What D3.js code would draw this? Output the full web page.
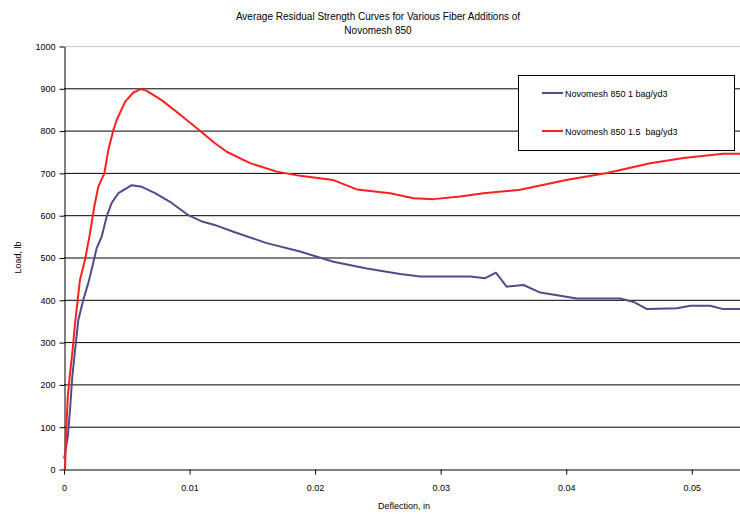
<!DOCTYPE html>
<html>
<head>
<meta charset="utf-8">
<script src="https://cdn.jsdelivr.net/npm/d3@7"></script>
<style>
body { margin: 0; background: #fff; }
text { font-family: "Liberation Sans", Arial, sans-serif; fill: #000; }
</style>
</head>
<body>
<div id="chart"></div>
<script>
var seriesNames = ["Novomesh 850 1 bag/yd3", "Novomesh 850 1.5  bag/yd3"];
var seriesColors = ["#4d4d8c", "#ff1f1f"];

// deflection (in), load (lb)
var oneBagX = [0, 0.00008, 0.0003, 0.00048, 0.00066, 0.00088, 0.00114, 0.00154, 0.00194, 0.00233, 0.0026, 0.003, 0.0034, 0.0038, 0.00433, 0.0054, 0.0062, 0.00725, 0.00858, 0.0099, 0.0110, 0.0120, 0.01349, 0.01615, 0.0188, 0.02146, 0.02412, 0.02677, 0.02837, 0.03235, 0.03355, 0.0344, 0.03525, 0.0366, 0.03793, 0.04085, 0.0443, 0.04537, 0.04643, 0.04882, 0.04988, 0.05147, 0.05249, 0.0540];
var oneBagY = [25, 35, 76, 140, 218, 281, 352, 400, 440, 487, 522, 549, 597, 629, 652, 671, 667, 652, 629, 600, 585, 577, 561, 534, 514, 490, 474, 461, 455, 455, 451, 464, 431, 435, 417, 403, 403, 395, 378, 380, 386, 386, 378, 378];

var onePtFiveX = [0, 0.00008, 0.00016, 0.0003, 0.00048, 0.00066, 0.00088, 0.00109, 0.00127, 0.00167, 0.00207, 0.00241, 0.00273, 0.00321, 0.00353, 0.00393, 0.0042, 0.00486, 0.00552, 0.00614, 0.00659, 0.00778, 0.00911, 0.01044, 0.01203, 0.01296, 0.01482, 0.01695, 0.0188, 0.02146, 0.02332, 0.02598, 0.02784, 0.02943, 0.03155, 0.03341, 0.03633, 0.04, 0.04325, 0.04669, 0.04935, 0.05249, 0.0540];
var onePtFiveY = [0, 2, 76, 171, 226, 274, 344, 400, 447, 494, 557, 620, 667, 699, 754, 801, 825, 868, 890, 898, 894, 872, 841, 809, 770, 750, 723, 703, 693, 683, 661, 652, 640, 638, 644, 652, 660, 683, 700, 723, 735, 745, 745];

var xTicks = [0, 0.01, 0.02, 0.03, 0.04, 0.05];
var yTicks = [0, 100, 200, 300, 400, 500, 600, 700, 800, 900, 1000];

var width = 740, height = 518;
var plotLeft = 64, plotRight = 742, plotTop = 46, plotBottom = 469;

var svg = d3.select("#chart").append("svg")
    .attr("width", width)
    .attr("height", height);

var x = d3.scaleLinear().domain([0, 0.054]).range([plotLeft, plotRight]);
var y = d3.scaleLinear().domain([0, 1000]).range([plotBottom, plotTop]);

// title
svg.append("text")
    .attr("x", 378).attr("y", 20)
    .attr("text-anchor", "middle")
    .style("font-size", "10px")
    .text("Average Residual Strength Curves for Various Fiber Additions of");
svg.append("text")
    .attr("x", 378).attr("y", 34)
    .attr("text-anchor", "middle")
    .style("font-size", "10px")
    .text("Novomesh 850");

// gridlines
svg.append("g")
    .selectAll("line")
    .data(yTicks.filter(function(d) { return d > 0; }))
    .enter().append("line")
    .attr("x1", plotLeft).attr("x2", plotRight)
    .attr("y1", function(d) { return y(d) + 0.5; })
    .attr("y2", function(d) { return y(d) + 0.5; })
    .attr("stroke", function(d) { return d == 1000 ? "#d6c8c8" : "#000"; })
    .attr("stroke-width", 1);

// axes
var yAxis = svg.append("g")
    .attr("transform", "translate(" + (plotLeft + 0.5) + ",0.5)")
    .call(d3.axisLeft(y).tickValues(yTicks).tickSize(5).tickSizeOuter(0).tickPadding(4)
        .tickFormat(d3.format("d")));
var xAxis = svg.append("g")
    .attr("transform", "translate(0," + (plotBottom + 0.5) + ")")
    .call(d3.axisBottom(x).tickValues(xTicks).tickSize(5).tickSizeOuter(0).tickPadding(10)
        .tickFormat(function(d) { return d == 0 ? "0" : d3.format(".2f")(d); }));
[xAxis, yAxis].forEach(function(a) {
    a.selectAll("text").style("font-size", "9px").style("font-family", "Liberation Sans, Arial, sans-serif");
    a.selectAll("line, path").attr("stroke", "#000");
});

// axis titles
svg.append("text")
    .attr("transform", "translate(21," + ((plotTop + plotBottom) / 2) + ") rotate(-90)")
    .attr("text-anchor", "middle")
    .style("font-size", "9px")
    .text("Load, lb");
svg.append("text")
    .attr("x", 404).attr("y", 509)
    .attr("text-anchor", "middle")
    .style("font-size", "9px")
    .text("Deflection, in");

// curves
var series = [
    d3.zip(oneBagX, oneBagY),
    d3.zip(onePtFiveX, onePtFiveY)
];
var line = d3.line()
    .x(function(d) { return x(d[0]); })
    .y(function(d) { return y(d[1]); });

svg.append("g")
    .selectAll("path")
    .data(series)
    .enter().append("path")
    .attr("d", line)
    .attr("fill", "none")
    .attr("stroke", function(d, i) { return seriesColors[i]; })
    .attr("stroke-width", 2)
    .attr("stroke-linejoin", "round");

// legend
var legend = svg.append("g");
legend.append("rect")
    .attr("x", 518.5).attr("y", 75.5)
    .attr("width", 216).attr("height", 75)
    .attr("fill", "#fff")
    .attr("stroke", "#000");
var item = legend.selectAll("g.item")
    .data(seriesNames)
    .enter().append("g")
    .attr("class", "item")
    .attr("transform", function(d, i) { return "translate(0," + (93 + i * 38) + ")"; });
item.append("line")
    .attr("x1", 542).attr("x2", 563)
    .attr("stroke", function(d, i) { return seriesColors[i]; })
    .attr("stroke-width", 2);
item.append("text")
    .attr("x", 565).attr("y", 3.5)
    .style("font-size", "9px")
    .style("white-space", "pre")
    .text(function(d) { return d; });
</script>
</body>
</html>
